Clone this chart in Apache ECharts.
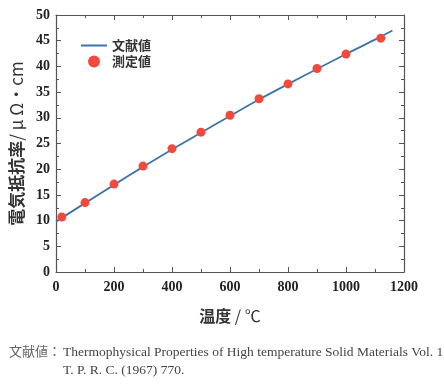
<!DOCTYPE html>
<html><head><meta charset="utf-8">
<script src="https://cdn.jsdelivr.net/npm/echarts@6/dist/echarts.min.js"></script>
<style>html,body{margin:0;padding:0;background:#fff}#c{width:444px;height:392px}</style>
</head><body><div id="c"></div>
<script>
// Data
const measuredTemp = [20, 100, 200, 300, 400, 500, 600, 700, 800, 900, 1000, 1120];
const measuredRho  = [10.7, 13.5, 17.1, 20.6, 24.0, 27.2, 30.5, 33.7, 36.6, 39.6, 42.4, 45.5];
const litTemp = [0, 100, 200, 300, 400, 500, 600, 700, 800, 900, 1000, 1100, 1160];
const litRho  = [9.8, 13.4, 16.95, 20.45, 23.85, 27.1, 30.35, 33.55, 36.55, 39.5, 42.4, 45.2, 47.0];
const xTicks = [0, 200, 400, 600, 800, 1000, 1200];
const yTicks = [0, 5, 10, 15, 20, 25, 30, 35, 40, 45, 50];
const seriesNames = ['文献値', '測定値'];
const xTitle = ['温度', ' / ℃'];
const yTitle = ['電気抵抗率', '/ μ Ω・cm'];
const footLabel = '文献値：';
const footLines = ['Thermophysical Properties of High temperature Solid Materials Vol. 1', 'T. P. R. C. (1967) 770.'];

const chart = echarts.init(document.getElementById('c'));
const axisColor = '#555';
const tickFont = {fontFamily: 'Liberation Serif', fontWeight: 'bold', fontSize: 14, color: '#222'};
const baseAxis = {
  axisLine: {show: true, onZero: false, lineStyle: {color: axisColor, width: 1.2}},
  axisTick: {show: true, inside: true, length: 5, lineStyle: {color: axisColor}},
  minorTick: {show: true, splitNumber: 2, length: 3, lineStyle: {color: axisColor}},
  splitLine: {show: false}
};
chart.setOption({
  animation: false,
  grid: {left: 56, right: 40, top: 15, bottom: 120},
  legend: {
    left: 76, top: 34, orient: 'vertical', itemGap: 3, itemWidth: 26, itemHeight: 12,
    textStyle: {fontFamily: 'Noto Sans CJK JP', fontSize: 13, fontWeight: 'bold', color: '#333'},
    data: [{name: seriesNames[0], icon: 'path://M0,5L26,5L26,7L0,7Z'}, {name: seriesNames[1], icon: 'circle'}]
  },
  xAxis: [
    Object.assign({}, baseAxis, {
      type: 'value', min: xTicks[0], max: xTicks[xTicks.length - 1], interval: 200,
      axisLabel: Object.assign({margin: 8, formatter: v => String(v)}, tickFont),
      name: '{b|' + xTitle[0] + '}{n|' + xTitle[1] + '}', nameLocation: 'middle', nameGap: 36,
      nameTextStyle: {rich: {
        b: {fontFamily: 'Noto Sans CJK JP', fontWeight: 'bold', fontSize: 16, color: '#333'},
        n: {fontFamily: 'Noto Sans CJK JP', fontWeight: 'normal', fontSize: 16, color: '#333'}
      }}
    }),
    Object.assign({}, baseAxis, {
      type: 'value', position: 'top', min: xTicks[0], max: xTicks[xTicks.length - 1], interval: 200,
      axisLabel: {show: false}
    })
  ],
  yAxis: [
    Object.assign({}, baseAxis, {
      type: 'value', min: yTicks[0], max: yTicks[yTicks.length - 1], interval: 5,
      axisLabel: Object.assign({margin: 6}, tickFont),
      name: '{b|' + yTitle[0] + '}{n|' + yTitle[1] + '}', nameLocation: 'middle', nameGap: 30,
      nameTextStyle: {rich: {
        b: {fontFamily: 'Noto Sans CJK JP', fontWeight: 'bold', fontSize: 17, color: '#333'},
        n: {fontFamily: 'Noto Sans CJK JP', fontWeight: 'normal', fontSize: 17, color: '#333'}
      }}
    }),
    Object.assign({}, baseAxis, {
      type: 'value', position: 'right', min: yTicks[0], max: yTicks[yTicks.length - 1], interval: 5,
      axisLabel: {show: false}
    })
  ],
  series: [
    {name: seriesNames[0], type: 'line', z: 2, symbol: 'none', smooth: 0.3, lineStyle: {color: '#3f74a8', width: 1.8},
     itemStyle: {color: '#3f74a8'},
     data: litTemp.map((t, i) => [t, litRho[i]])},
    {name: seriesNames[1], type: 'scatter', z: 5, symbolSize: 9, itemStyle: {color: '#f04a3e', opacity: 1},
     data: measuredTemp.map((t, i) => [t, measuredRho[i]])}
  ],
  graphic: [
    {type: 'text', left: 9, top: 345, style: {text: footLabel, font: '13px "Noto Sans CJK JP"', fill: '#666'}},
    {type: 'text', left: 63, top: 345, style: {text: footLines[0], font: '13.5px "Liberation Serif"', fill: '#444'}},
    {type: 'text', left: 63, top: 363, style: {text: footLines[1], font: '13.5px "Liberation Serif"', fill: '#444'}}
  ]
});
</script></body></html>
